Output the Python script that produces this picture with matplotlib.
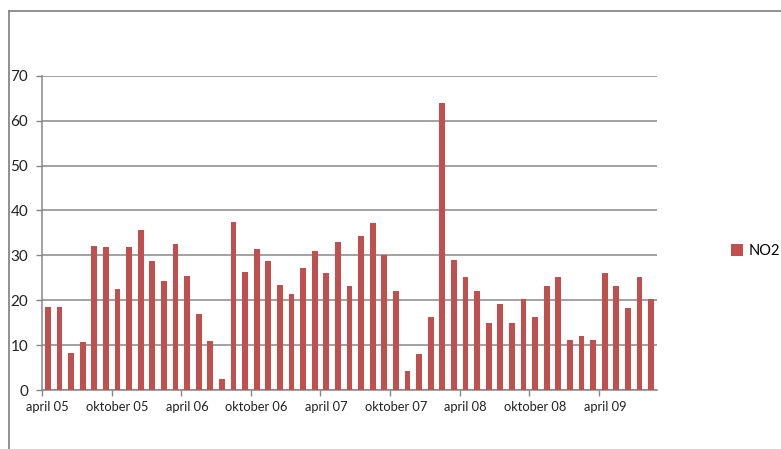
import matplotlib
matplotlib.use("Agg")
import matplotlib.pyplot as plt
from matplotlib.lines import Line2D
import numpy as np

months = ["april 05", "mai 05", "juni 05", "juli 05", "august 05", "september 05",
          "oktober 05", "november 05", "desember 05", "januar 06", "februar 06", "mars 06",
          "april 06", "mai 06", "juni 06", "juli 06", "august 06", "september 06",
          "oktober 06", "november 06", "desember 06", "januar 07", "februar 07", "mars 07",
          "april 07", "mai 07", "juni 07", "juli 07", "august 07", "september 07",
          "oktober 07", "november 07", "desember 07", "januar 08", "februar 08", "mars 08",
          "april 08", "mai 08", "juni 08", "juli 08", "august 08", "september 08",
          "oktober 08", "november 08", "desember 08", "januar 09", "februar 09", "mars 09",
          "april 09", "mai 09", "juni 09", "juli 09", "august 09"]
no2 = [18.5, 18.5, 8.3, 10.8, 32.1, 31.9, 22.5, 31.9, 35.7, 28.7, 24.3, 32.6,
       25.4, 16.9, 11.0, 2.5, 37.5, 26.3, 31.4, 28.7, 23.4, 21.4, 27.2, 31.0,
       26.1, 33.0, 23.2, 34.3, 37.2, 30.1, 22.0, 4.2, 8.0, 16.3, 63.9, 29.0,
       25.2, 22.0, 14.9, 19.2, 14.9, 20.3, 16.3, 23.2, 25.2, 11.1, 12.0, 11.1,
       26.1, 23.2, 18.3, 25.2, 20.3]
series_name = "NO2"
yticks = [0, 10, 20, 30, 40, 50, 60, 70]
label_every = 6

plt.rcParams['font.family'] = ['Lato', 'DejaVu Sans']
fig = plt.figure(figsize=(7.81, 4.49), dpi=100)
ax = fig.add_axes([42/781, 1-390/449, 615/781, (390-75.7)/449])

gray = "#878787"
x = np.arange(len(no2))
bars = ax.bar(x, no2, width=0.5, color="#C0504D", label=series_name, zorder=3)

ax.set_xlim(-0.5, len(no2) - 0.5)
ax.set_ylim(0, 70)
ax.set_yticks(yticks)
ax.set_yticklabels([str(v) for v in yticks], fontsize=11, color="#222222")
ax.yaxis.grid(True, color=gray, linewidth=1.1, zorder=0)

major = [i - 0.5 for i in range(0, len(no2), label_every)]
ax.set_xticks(major)
ax.set_xticklabels([])
minor = list(range(0, len(no2), label_every))
ax.set_xticks(minor, minor=True)
ax.set_xticklabels([months[i] for i in minor], minor=True, fontsize=9.3, color="#222222")
ax.tick_params(axis='x', which='major', length=4, color=gray, width=1)
ax.tick_params(axis='x', which='minor', length=0, pad=8)
ax.tick_params(axis='y', length=4, color=gray, width=1, pad=6)

for s in ['top', 'right']:
    ax.spines[s].set_visible(False)
for s in ['left', 'bottom']:
    ax.spines[s].set_color(gray)
    ax.spines[s].set_linewidth(1.1)

fig.legend(handles=[bars], labels=[series_name], loc='center left',
           bbox_to_anchor=(731/781, 1-251/449), frameon=False, fontsize=10.5,
           handlelength=0.8, handleheight=0.8, handletextpad=0.4, borderpad=0,
           borderaxespad=0)

fig.add_artist(Line2D([8.5/781, 1], [1-11/449, 1-11/449], color=gray, linewidth=1.3,
                      transform=fig.transFigure))
fig.add_artist(Line2D([8.5/781, 8.5/781], [0, 1-11/449], color=gray, linewidth=1.3,
                      transform=fig.transFigure))

fig.savefig("out.png", dpi=100)
